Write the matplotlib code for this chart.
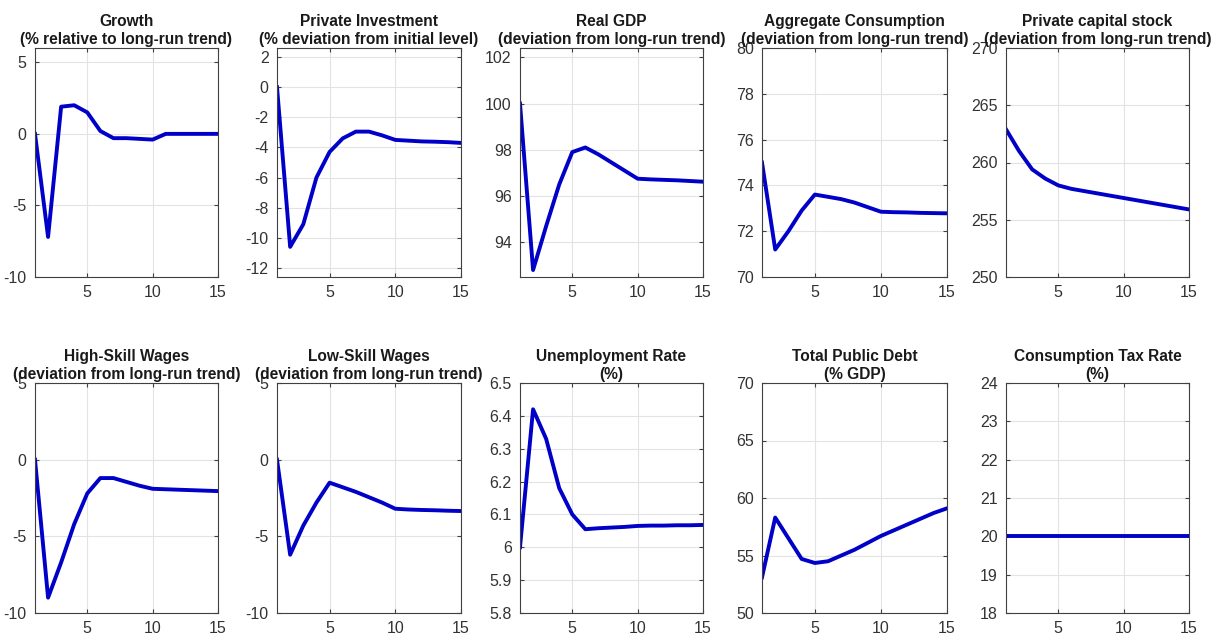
import matplotlib
matplotlib.use("Agg")
import matplotlib.pyplot as plt
from matplotlib.ticker import FuncFormatter

plt.rcParams.update({
    "font.family": ["Liberation Sans", "DejaVu Sans"],
    "font.size": 11,
})

LINE = "#0000c8"

periods = list(range(1, 16))

growth = [0, -7.2, 1.9, 2.0, 1.5, 0.2, -0.3, -0.3, -0.35, -0.4, 0, 0, 0, 0, 0]
investment = [0, -10.6, -9.1, -6.0, -4.3, -3.4, -2.95, -2.95, -3.2, -3.5,
              -3.55, -3.6, -3.62, -3.65, -3.7]
real_gdp = [100, 92.8, 94.7, 96.5, 97.9, 98.1, 97.8, 97.45, 97.1, 96.75,
            96.72, 96.7, 96.68, 96.65, 96.62]
consumption = [75, 71.2, 72.0, 72.9, 73.6, 73.5, 73.4, 73.25, 73.05, 72.85,
               72.83, 72.82, 72.8, 72.79, 72.78]
capital = [262.9, 261.0, 259.4, 258.6, 258.0, 257.7, 257.5, 257.3, 257.1,
           256.9, 256.7, 256.5, 256.3, 256.1, 255.9]
high_wages = [0, -9.0, -6.7, -4.2, -2.2, -1.2, -1.2, -1.45, -1.7, -1.9,
              -1.93, -1.96, -1.99, -2.02, -2.05]
low_wages = [0, -6.2, -4.3, -2.8, -1.5, -1.8, -2.1, -2.45, -2.8, -3.2,
             -3.25, -3.28, -3.3, -3.33, -3.35]
unemployment = [6.0, 6.42, 6.33, 6.18, 6.1, 6.055, 6.058, 6.06, 6.062, 6.065,
                6.066, 6.066, 6.067, 6.067, 6.068]
public_debt = [53.1, 58.3, 56.5, 54.7, 54.35, 54.5, 55.0, 55.5, 56.1, 56.7,
               57.2, 57.7, 58.2, 58.7, 59.1]
tax_rate = [20] * 15

titles = [
    "Growth\n(% relative to long-run trend)",
    "Private Investment\n(% deviation from initial level)",
    "Real GDP\n(deviation from long-run trend)",
    "Aggregate Consumption\n(deviation from long-run trend)",
    "Private capital stock\n(deviation from long-run trend)",
    "High-Skill Wages\n(deviation from long-run trend)",
    "Low-Skill Wages\n(deviation from long-run trend)",
    "Unemployment Rate\n(%)",
    "Total Public Debt\n(% GDP)",
    "Consumption Tax Rate\n(%)",
]
series = [growth, investment, real_gdp, consumption, capital,
          high_wages, low_wages, unemployment, public_debt, tax_rate]
ylims = [(-10, 6), (-12.6, 2.6), (92.5, 102.4), (70, 80), (250, 270),
         (-10, 5), (-10, 5), (5.8, 6.5), (50, 70), (18, 24)]
yticks = [
    [-10, -5, 0, 5],
    [-12, -10, -8, -6, -4, -2, 0, 2],
    [94, 96, 98, 100, 102],
    [70, 72, 74, 76, 78, 80],
    [250, 255, 260, 265, 270],
    [-10, -5, 0, 5],
    [-10, -5, 0, 5],
    [5.8, 5.9, 6.0, 6.1, 6.2, 6.3, 6.4, 6.5],
    [50, 55, 60, 65, 70],
    [18, 19, 20, 21, 22, 23, 24],
]

# axes boxes in pixels (left, right) per column, (top, bottom) per row
W, H = 1224, 637
cols = [(35, 218), (277, 461), (520, 703), (762, 947), (1006, 1189)]
rows = [(48, 277), (383, 613)]

fig = plt.figure(figsize=(W / 100, H / 100), dpi=100)


def fmt(v, _):
    return f"{v:g}"


for i, (title, ys) in enumerate(zip(titles, series)):
    r, c = divmod(i, 5)
    x0, x1 = cols[c]
    t0, b0 = rows[r]
    ax = fig.add_axes([x0 / W, 1 - b0 / H, (x1 - x0) / W, (b0 - t0) / H])
    ax.plot(periods, ys, color=LINE, lw=2.8, solid_joinstyle="round")
    ax.set_xlim(1, 15)
    ax.set_ylim(*ylims[i])
    ax.set_xticks([5, 10, 15])
    ax.set_yticks(yticks[i])
    ax.yaxis.set_major_formatter(FuncFormatter(fmt))
    ax.grid(True, color="#e3e3e3", lw=0.8)
    ax.set_axisbelow(True)
    for s in ax.spines.values():
        s.set_color("#404040")
        s.set_linewidth(0.8)
    ax.tick_params(direction="in", length=3, color="#404040",
                   labelcolor="#333333", labelsize=11.5, top=True, right=True,
                   pad=6)
    ax.set_title(title, fontsize=11.2, fontweight="bold", color="#1a1a1a",
                 pad=3, linespacing=1.2)

fig.savefig("out.png", dpi=100)
